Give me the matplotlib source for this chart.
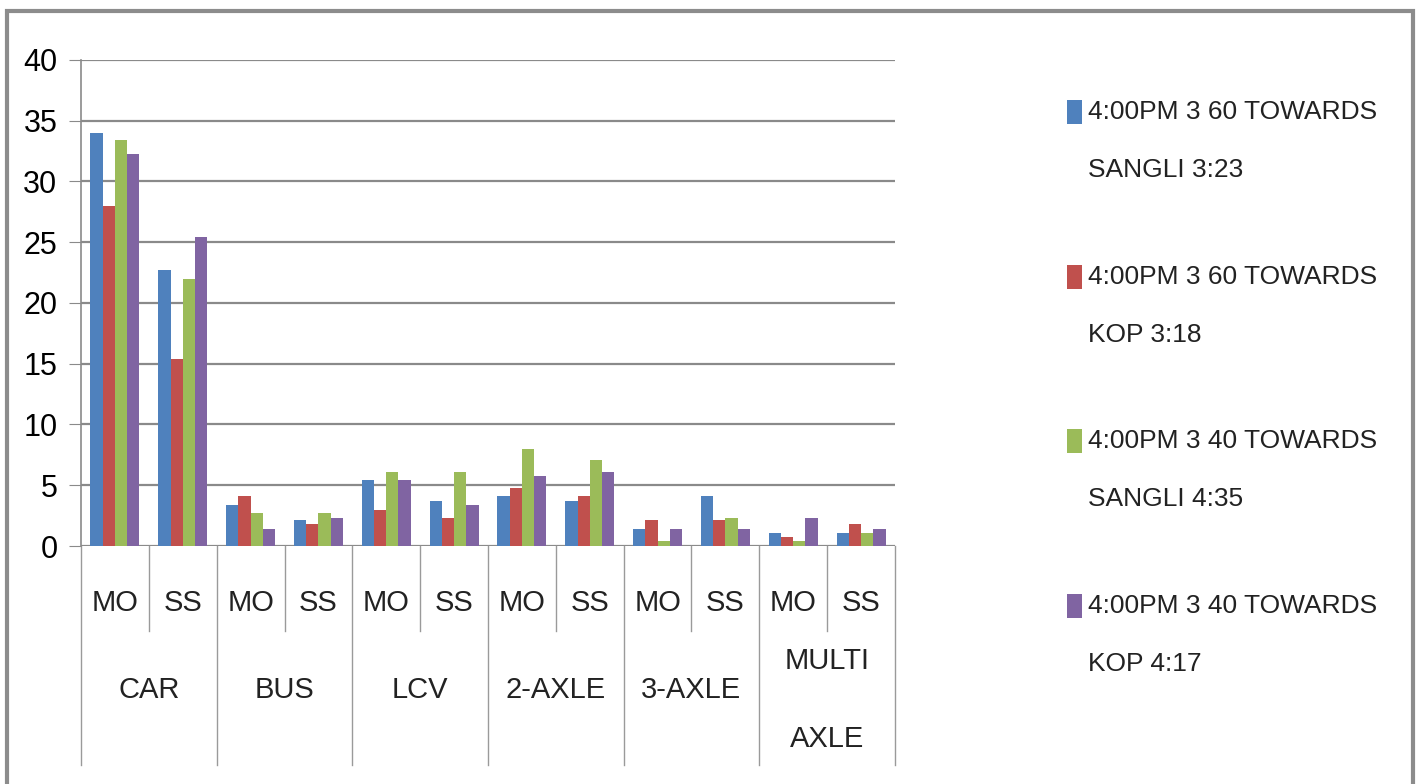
import matplotlib.pyplot as plt
from matplotlib.patches import Rectangle
import numpy as np

plt.rcParams['font.family'] = ['Liberation Sans', 'DejaVu Sans']

groups = ["CAR", "BUS", "LCV", "2-AXLE", "3-AXLE", "MULTI\nAXLE"]
subs = ["MO", "SS"]
series = ["4:00PM 3 60 TOWARDS\nSANGLI 3:23",
          "4:00PM 3 60 TOWARDS\nKOP 3:18",
          "4:00PM 3 40 TOWARDS\nSANGLI 4:35",
          "4:00PM 3 40 TOWARDS\nKOP 4:17"]
colors = ["#4F81BD", "#C0504D", "#9BBB59", "#8064A2"]

# order: CAR MO, CAR SS, BUS MO, BUS SS, ...
s1 = [34.0, 22.7, 3.4, 2.1, 5.4, 3.7, 4.1, 3.7, 1.4, 4.1, 1.1, 1.1]
s2 = [28.0, 15.4, 4.1, 1.8, 3.0, 2.3, 4.8, 4.1, 2.1, 2.1, 0.7, 1.8]
s3 = [33.4, 22.0, 2.7, 2.7, 6.1, 6.1, 8.0, 7.1, 0.4, 2.3, 0.4, 1.1]
s4 = [32.3, 25.4, 1.4, 2.3, 5.4, 3.4, 5.8, 6.1, 1.4, 1.4, 2.3, 1.4]
values = [s1, s2, s3, s4]

fig = plt.figure(figsize=(14.19, 7.84), dpi=100)
fig.patches.append(Rectangle((7 / 1419, -0.05), 1406 / 1419, 1.05 - 11 / 784,
                             transform=fig.transFigure, fill=False,
                             edgecolor="#8c8c8c", linewidth=3))

ax = fig.add_axes([81 / 1419, (784 - 546) / 784, 814 / 1419, 486 / 784])

n = len(s1)
x = np.arange(n)
w = 0.18
for i, (vals, c) in enumerate(zip(values, colors)):
    ax.bar(x + (i - 1.5) * w, vals, w, color=c, zorder=3)

ax.set_xlim(-0.5, n - 0.5)
ax.set_ylim(0, 40)
ax.set_yticks(range(0, 41, 5))
ax.yaxis.grid(True, color="#8a8a8a", linewidth=1.6)
ax.set_axisbelow(True)
for side in ["top", "right", "bottom"]:
    ax.spines[side].set_visible(False)
ax.spines["left"].set_color("#8a8a8a")
ax.spines["left"].set_linewidth(1.2)
ax.tick_params(axis="y", length=9, color="#8a8a8a", labelsize=22, pad=8)
ax.set_xticks([])

tr = ax.get_xaxis_transform()
# sub-category labels and separators
for k in range(n):
    ax.text(k, -0.117, subs[k % 2], transform=tr, ha="center", va="center",
            fontsize=21, color="#222222")
for k in range(n + 1):
    edge = k - 0.5
    low = -0.45 if k % 2 == 0 else -0.175
    ax.plot([edge, edge], [0, low], transform=tr, color="#9a9a9a",
            linewidth=1.0, clip_on=False)
for g, name in enumerate(groups):
    ax.text(2 * g + 0.5, -0.296 if "\n" not in name else -0.317, name,
            transform=tr, ha="center", va="center", fontsize=21,
            color="#222222", linespacing=3.3)

# legend
ys = [112, 277, 441, 606]
for name, c, yy in zip(series, colors, ys):
    fig.patches.append(Rectangle((1067 / 1419, 1 - (yy + 12) / 784), 15 / 1419,
                                 24 / 784, transform=fig.transFigure,
                                 facecolor=c, edgecolor="none"))
    fig.text(1088 / 1419, 1 - (yy - 12) / 784, name, ha="left", va="top",
             fontsize=19, color="#222222", linespacing=2.8)

fig.savefig("out.png", dpi=100)
